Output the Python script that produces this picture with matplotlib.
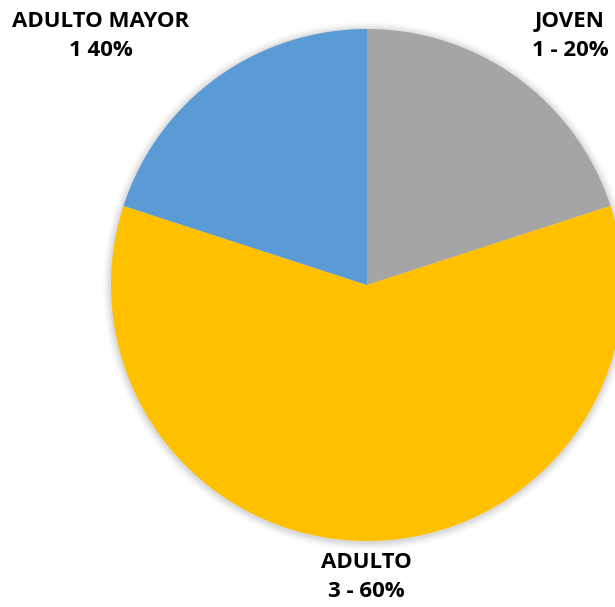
import matplotlib
matplotlib.use("Agg")
import matplotlib.pyplot as plt

categories = ["JOVEN", "ADULTO", "ADULTO MAYOR"]
values = [20, 60, 20]
label_texts = ["JOVEN\n1 - 20%", "ADULTO\n3 - 60%", "ADULTO MAYOR\n1 40%"]
colors = ["#A5A5A5", "#FFC000", "#5B9BD5"]

W, H = 615, 607
fig = plt.figure(figsize=(W / 100, H / 100), dpi=100)
ax = fig.add_axes([0, 0, 1, 1])
ax.set_xlim(0, W)
ax.set_ylim(0, H)
ax.set_aspect("equal")
ax.axis("off")

cx, cy, r = 367, H - 285, 256

# soft shadow
for i, a in enumerate([0.05, 0.04, 0.03, 0.02]):
    ax.pie([1], radius=r + 2 + i * 2, center=(cx, cy - 1), colors=["#000000"],
           wedgeprops=dict(alpha=a, linewidth=0), frame=True)

ax.pie(values, radius=r, center=(cx, cy), colors=colors, startangle=90,
       counterclock=False, wedgeprops=dict(linewidth=0), frame=True)
ax.set_xlim(0, W)
ax.set_ylim(0, H)
ax.axis("off")

pos = [(570, H - 36), (366, H - 577), (101, H - 36)]
for (x, y), t in zip(pos, label_texts):
    ax.text(x, y, t, ha="center", va="center", fontsize=16, fontweight="bold",
            family="Open Sans", color="#000000", linespacing=1.5)

fig.savefig("out.png", dpi=100)
